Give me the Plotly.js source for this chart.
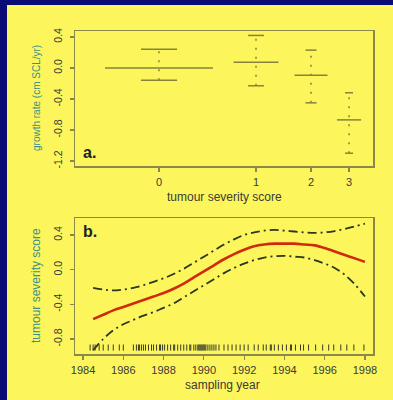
<!DOCTYPE html>
<html>
<head>
<meta charset="utf-8">
<script src="https://cdn.plot.ly/plotly-3.0.1.min.js"></script>
<style>html,body{margin:0;padding:0;background:#0b0b78;}</style>
</head>
<body>
<div id="chart" style="width:393px;height:400px;"></div>
<script>
// ---- Panel a data: growth rate by tumour severity score ----
const categories = ['0', '1', '2', '3'];
const centerVals = [0.0, 0.075, -0.095, -0.67];
const upperVals  = [0.24, 0.42, 0.23, -0.32];
const lowerVals  = [-0.16, -0.23, -0.45, -1.10];

// ---- Panel b data: fitted tumour severity score vs sampling year ----
const years = [1984.5,1985,1985.5,1986,1986.5,1987,1987.5,1988,1988.5,1989,1989.5,1990,1990.5,1991,1991.5,1992,1992.5,1993,1993.5,1994,1994.5,1995,1995.5,1996,1996.5,1997,1997.5,1998];
const fitVals = [-0.57,-0.52,-0.47,-0.43,-0.39,-0.35,-0.31,-0.27,-0.22,-0.16,-0.09,-0.02,0.05,0.12,0.18,0.23,0.27,0.29,0.30,0.30,0.30,0.29,0.28,0.25,0.21,0.17,0.13,0.09];
const upperBand = [-0.21,-0.23,-0.24,-0.23,-0.21,-0.18,-0.14,-0.10,-0.05,0.01,0.08,0.15,0.22,0.29,0.35,0.40,0.43,0.45,0.46,0.45,0.44,0.43,0.425,0.43,0.445,0.47,0.50,0.53];
const lowerBand = [-0.93,-0.80,-0.70,-0.63,-0.58,-0.53,-0.49,-0.44,-0.39,-0.32,-0.25,-0.18,-0.11,-0.04,0.02,0.07,0.11,0.14,0.155,0.16,0.15,0.14,0.11,0.07,0.02,-0.06,-0.17,-0.31];
const rugYears = [1984.35,1984.5,1984.6,1984.8,1985.0,1985.25,1985.5,1985.8,1986.0,
  1986.5,1986.65,1986.75,1986.8,1986.9,1987.0,1987.1,1987.25,1987.4,1987.5,1987.65,1987.8,1987.85,1987.95,1988.05,
  1988.2,1988.35,1988.5,1988.55,1988.7,1988.85,1989.0,1989.15,1989.3,1989.35,1989.5,1989.6,1989.7,1989.75,1989.8,
  1989.85,1989.9,1989.95,1990.0,1990.05,1990.1,1990.2,1990.3,1990.4,1990.5,1990.6,1990.75,
  1991.0,1991.2,1991.4,1991.6,1991.8,1992.0,1992.2,1992.5,1992.7,1992.95,1993.1,1993.3,1993.35,1993.5,1993.7,
  1993.9,1994.1,1994.3,1994.35,1994.55,1994.8,1994.95,1995.2,1995.55,1995.9,1996.2,1996.45,1996.8,1997.1,1997.45,1997.95];
const yTicksA = [-1.2, -0.8, -0.4, 0.0, 0.4];
const yTickTextA = ['-1.2', '-0.8', '-0.4', '0.0', '0.4'];
const yTicksB = [-0.8, -0.4, 0.0, 0.4];
const yTickTextB = ['-0.8', '-0.4', '0.0', '0.4'];
const xTicksB = [1984, 1986, 1988, 1990, 1992, 1994, 1996, 1998];

// ---- layout constants (positions / sizes / styles) ----
const catPos = [0, 1, 1.567, 1.959];
const centerHalf = [0.556, 0.232, 0.17, 0.124];
const capHalf = [0.186, 0.082, 0.057, 0.041];
const W = 393, H = 400;
const px = v => v / W, py = v => 1 - v / H;
const olive = '#85833c';
const frame = '#8a884a';
const font = 'Liberation Sans, Arial, sans-serif';

// build panel a segments
const cx = [], cy = [], kx = [], ky = [], dx = [], dy = [];
categories.forEach((c, i) => {
  const p = catPos[i];
  cx.push(p - centerHalf[i], p + centerHalf[i], null);
  cy.push(centerVals[i], centerVals[i], null);
  kx.push(p - capHalf[i], p + capHalf[i], null, p - capHalf[i], p + capHalf[i], null);
  ky.push(upperVals[i], upperVals[i], null, lowerVals[i], lowerVals[i], null);
  dx.push(p, p, null);
  dy.push(lowerVals[i], upperVals[i], null);
});

const traces = [
  {x: dx, y: dy, xaxis: 'x', yaxis: 'y', mode: 'lines', line: {color: olive, width: 1.5, dash: '2px,7px'}, hoverinfo: 'skip'},
  {x: cx, y: cy, xaxis: 'x', yaxis: 'y', mode: 'lines', line: {color: olive, width: 1.5}, hoverinfo: 'skip'},
  {x: kx, y: ky, xaxis: 'x', yaxis: 'y', mode: 'lines', line: {color: olive, width: 1.5}, hoverinfo: 'skip'},
  {x: years, y: upperBand, xaxis: 'x2', yaxis: 'y2', mode: 'lines', line: {color: '#2c3520', width: 1.8, dash: '9px,4px,2px,4px', shape: 'spline'}},
  {x: years, y: lowerBand, xaxis: 'x2', yaxis: 'y2', mode: 'lines', line: {color: '#2c3520', width: 1.8, dash: '9px,4px,2px,4px', shape: 'spline'}},
  {x: years, y: fitVals, xaxis: 'x2', yaxis: 'y2', mode: 'lines', line: {color: '#d02a0c', width: 2.6, shape: 'spline'}}
];

const shapes = [
  {type: 'rect', xref: 'paper', yref: 'paper', x0: px(7), x1: 1, y0: 0, y1: py(5), fillcolor: '#fcf65c', line: {width: 0}, layer: 'below'}
];
rugYears.forEach(yr => shapes.push({
  type: 'line', xref: 'x2', yref: 'y2 domain', x0: yr, x1: yr, y0: 0.025, y1: 0.07,
  line: {color: '#3a3a30', width: 1}
}));

const axisCommon = {
  showline: true, mirror: true, linecolor: frame, linewidth: 1.5,
  ticks: 'outside', ticklen: 4, tickcolor: frame, tickwidth: 1.2,
  showgrid: false, zeroline: false, fixedrange: true,
  tickfont: {family: font, size: 11, color: '#3a3a38'}
};

const ann = (text, x, y, size, color, angle) => ({
  text: text, xref: 'paper', yref: 'paper', x: px(x), y: py(y),
  xanchor: 'center', yanchor: 'middle', showarrow: false, textangle: angle || 0,
  font: {family: font, size: size, color: color}
});

const layout = {
  width: W, height: H,
  margin: {l: 0, r: 0, t: 0, b: 0},
  paper_bgcolor: '#0b0b78', plot_bgcolor: 'rgba(0,0,0,0)',
  showlegend: false,
  shapes: shapes,
  xaxis: Object.assign({}, axisCommon, {domain: [px(75), px(373)], range: [-0.866, 2.206], tickvals: catPos, ticktext: categories, anchor: 'y', ticklabelstandoff: 1}),
  yaxis: Object.assign({}, axisCommon, {domain: [py(166), py(31)], range: [-1.265, 0.477], tickvals: yTicksA, ticktext: yTickTextA, tickangle: -90, anchor: 'x', ticklabelstandoff: 3, tickfont: {family: font, size: 10.5, color: '#3a3a38'}}),
  xaxis2: Object.assign({}, axisCommon, {domain: [px(75), px(373)], range: [1983.6, 1998.4], tickvals: xTicksB, anchor: 'y2', ticklabelstandoff: 1}),
  yaxis2: Object.assign({}, axisCommon, {domain: [py(354), py(218)], range: [-0.973, 0.596], tickvals: yTicksB, ticktext: yTickTextB, tickangle: -90, anchor: 'x2', ticklabelstandoff: 3, tickfont: {family: font, size: 10.5, color: '#3a3a38'}}),
  annotations: [
    ann('<b>a.</b>', 89, 152, 16, '#222'),
    ann('<b>b.</b>', 90, 232, 16, '#222'),
    ann('tumour severity score', 224, 197, 12, '#3a3a38'),
    ann('sampling year', 222, 385, 12, '#3a3a38'),
    ann('growth rate (cm SCL/yr)', 36, 98, 10, '#3f8f86', -90),
    ann('tumour severity score', 36, 286, 12, '#3f8f86', -90)
  ]
};

Plotly.newPlot('chart', traces, layout, {staticPlot: true, displayModeBar: false});
</script>
</body>
</html>
